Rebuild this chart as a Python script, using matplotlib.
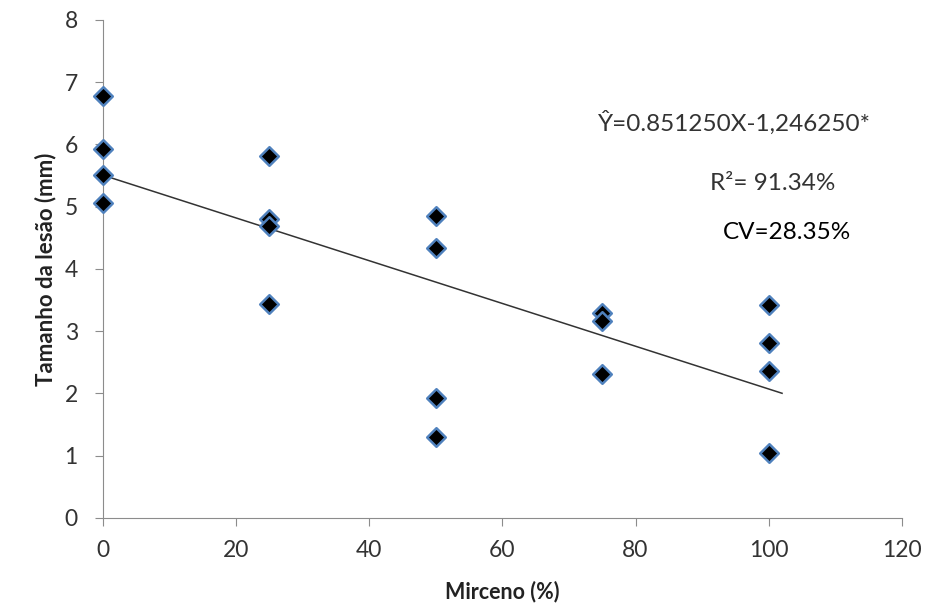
import numpy as np
import matplotlib
matplotlib.use("Agg")
import matplotlib.pyplot as plt

plt.rcParams['font.family'] = ['Lato', 'DejaVu Sans']

# doses of mirceno (%) and lesion size (mm)
mirceno = [0, 0, 0, 0,
           25, 25, 25, 25,
           50, 50, 50, 50,
           75, 75, 75,
           100, 100, 100, 100]
lesao = [6.78, 5.93, 5.51, 5.06,
         5.82, 4.80, 4.69, 3.44,
         4.85, 4.34, 1.93, 1.30,
         3.29, 3.17, 2.31,
         3.42, 2.81, 2.36, 1.04]

xTicks = [0, 20, 40, 60, 80, 100, 120]
yTicks = [0, 1, 2, 3, 4, 5, 6, 7, 8]

equationText = "\u0176=0.851250X-1,246250*"
r2Text = "R\u00b2= 91.34%"
cvText = "CV=28.35%"

fig = plt.figure(figsize=(9.26, 6.03), dpi=100)
ax = fig.add_axes([0.111, 0.141, 0.863, 0.826])

# linear trend line over the points
slope, intercept = np.polyfit(mirceno, lesao, 1)
lineX = np.array([0, 102])
ax.plot(lineX, slope * lineX + intercept, color="#333333", lw=1.1, zorder=2)

ax.scatter(mirceno, lesao, marker="D", s=90, c="black",
           edgecolors="#4F81BD", linewidths=1.8, zorder=3, clip_on=False)

ax.set_xlim(0, 120)
ax.set_ylim(0, 8)
ax.set_xticks(xTicks)
ax.set_yticks(yTicks)

for side in ["top", "right"]:
    ax.spines[side].set_visible(False)
for side in ["left", "bottom"]:
    ax.spines[side].set_color("#8c8c8c")
ax.tick_params(colors="#8c8c8c", labelcolor="#333333", labelsize=16.5,
               length=6, direction="out")
ax.tick_params(axis="x", pad=10)
ax.tick_params(axis="y", pad=12)

ax.set_xlabel("Mirceno (%)", fontsize=15.5, fontweight="bold", color="#222222",
              labelpad=14)
ax.set_ylabel("Tamanho da lesão (mm)", fontsize=16, fontweight="bold",
              color="#222222", labelpad=6)

ax.text(94.9, 6.35, equationText, ha="center", va="center", fontsize=17.5,
        color="#333333")
ax.text(100.6, 5.38, r2Text, ha="center", va="center", fontsize=17.5,
        color="#333333")
ax.text(102.7, 4.58, cvText, ha="center", va="center", fontsize=17.5,
        color="black")

fig.savefig("out.png", dpi=100)
